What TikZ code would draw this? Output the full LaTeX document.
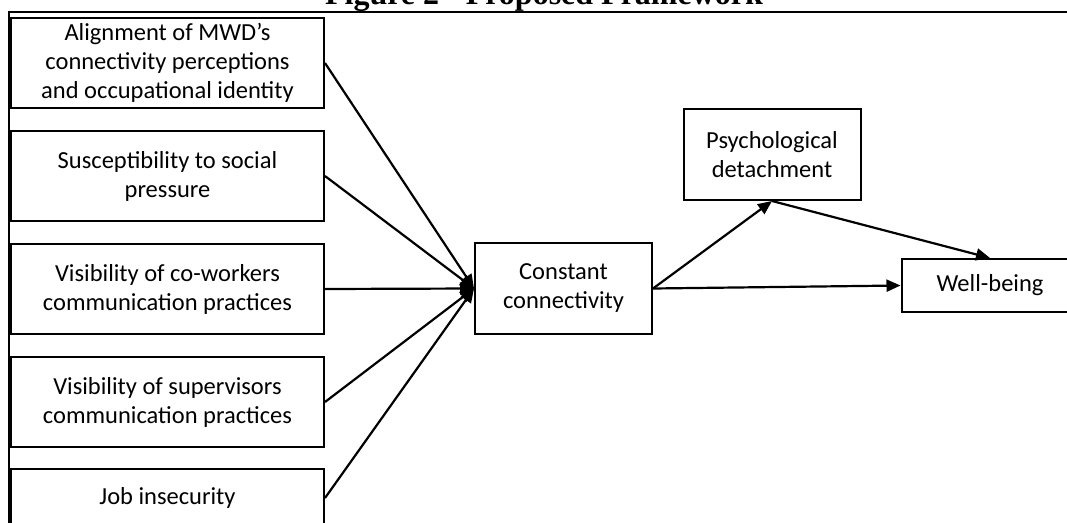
\documentclass[tikz,border=0pt]{standalone}
\usepackage{fontspec}
\setmainfont{Carlito}
\newfontfamily\titlefont{Liberation Serif}
\usetikzlibrary{arrows.meta}
\begin{document}
\begin{tikzpicture}[x=1pt,y=-1pt,
  box/.style={draw,line width=2pt,minimum width=313pt,minimum height=90pt,
    align=center,inner sep=0pt,font=\fontsize{24.5}{29}\selectfont},
  sbox/.style={draw,line width=2pt,minimum width=177pt,minimum height=91pt,
    align=center,inner sep=0pt,font=\fontsize{24.5}{29}\selectfont},
  arr/.style={line width=2.2pt,-{Triangle[length=14pt,width=12pt]}},
  frame/.style={line width=2pt}]
\useasboundingbox (0,0) rectangle (1067,522);
\clip (0,0) rectangle (1067,522);
\node[anchor=base,font=\titlefont\bfseries\fontsize{32}{36}\selectfont,inner sep=0pt] (title) at (544,4.5) {Figure 2 - Proposed Framework};
\coordinate (ftl) at (9,11.5);
\coordinate (ftr) at (1070,11.5);
\coordinate (fbl) at (9,525);
\draw[frame] (ftr) -- (ftl) -- (fbl);
\node[box] (b1) at (167.5,63) {Alignment of MWD’s\\connectivity perceptions\\and occupational identity};
\node[box] (b2) at (167.5,176) {Susceptibility to social\\pressure};
\node[box] (b3) at (167.5,289) {Visibility of co-workers\\communication practices};
\node[box] (b4) at (167.5,402) {Visibility of supervisors\\communication practices};
\node[box,minimum height=58pt] (b5) at (167.5,498) {Job insecurity};
\node[sbox] (cc) at (563.5,288.5) {Constant\\connectivity};
\node[sbox] (pd) at (772,154.5) {Psychological\\detachment};
\node[sbox,minimum height=53pt] (wb) at (990,285.5) {Well-being};
\draw[arr] (b1.east) -- (cc.west);
\draw[arr] (b2.east) -- (cc.west);
\draw[arr] (b3.east) -- (cc.west);
\draw[arr] (b4.east) -- (cc.west);
\draw[arr] (b5.east) -- (cc.west);
\draw[arr] (cc.east) -- (pd.south);
\draw[arr] (pd.south) -- (wb.north);
\draw[arr] (cc.east) -- (wb.west);
\end{tikzpicture}
\end{document}
